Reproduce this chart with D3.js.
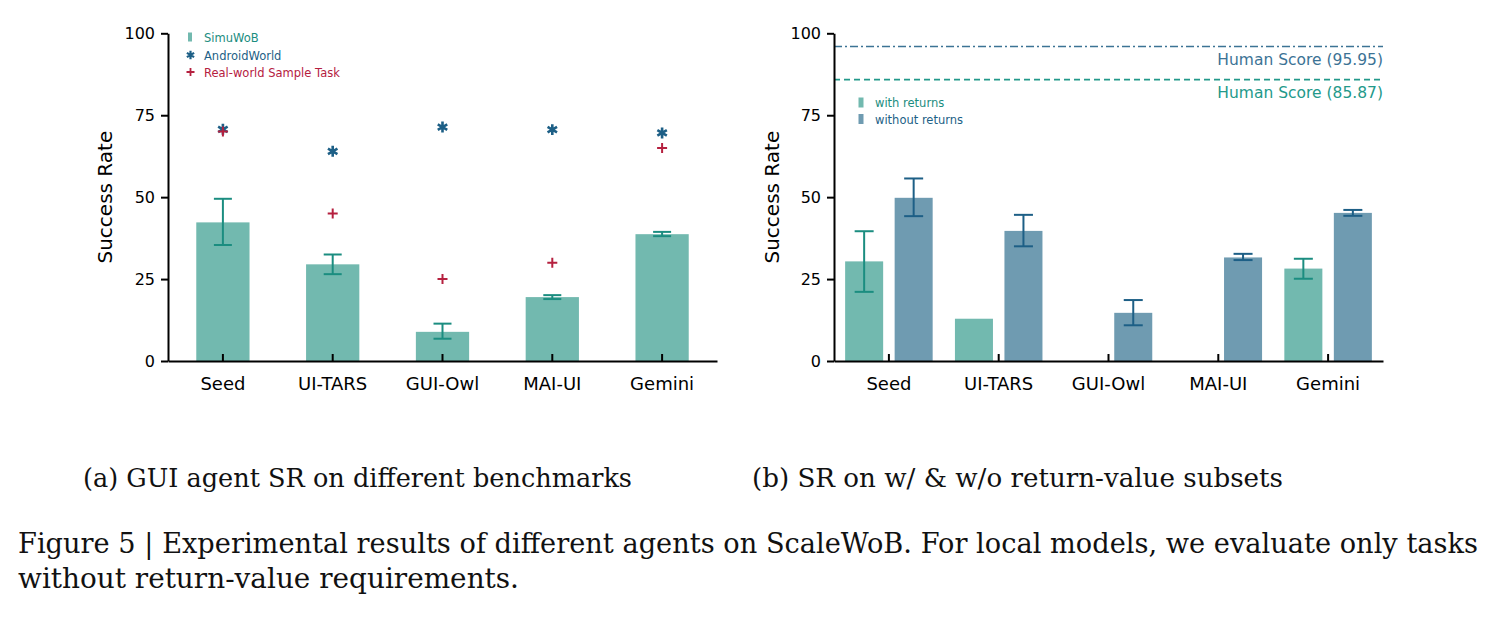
<!DOCTYPE html>
<html>
<head>
<meta charset="utf-8">
<script src="https://cdn.jsdelivr.net/npm/d3@7"></script>
<style>
  body { margin: 0; background: #fff; }
  svg { display: block; }
  .axis path, .axis line { stroke: #000; stroke-width: 2px; }
  .axis text { font-family: "DejaVu Sans", Verdana, sans-serif; fill: #000; }
</style>
</head>
<body>
<svg id="fig"></svg>
<script>
// ---- data ----
const categories = ['Seed', 'UI-TARS', 'GUI-Owl', 'MAI-UI', 'Gemini'];
const yTicks = [0, 25, 50, 75, 100];

// (a) GUI agent SR on different benchmarks
const simuwob   = [42.3, 29.5, 8.9, 19.5, 38.7];
const simuwobLo = [35.4, 26.5, 6.8, 18.9, 38.1];
const simuwobHi = [49.5, 32.5, 11.4, 20.1, 39.4];
const androidWorld = [70.7, 64.0, 71.4, 70.6, 69.6];
const realWorld    = [70.0, 45.0, 25.0, 30.0, 65.0];

// (b) SR on w/ & w/o return-value subsets
const withReturns    = [30.4, 12.9, null, null, 28.2];
const withLo         = [21.1, null, null, null, 25.1];
const withHi         = [39.6, null, null, null, 31.2];
const withoutReturns = [49.8, 39.7, 14.7, 31.6, 45.2];
const withoutLo      = [44.2, 35.0, 10.9, 30.8, 44.3];
const withoutHi      = [55.7, 44.6, 18.6, 32.7, 46.1];
const humanScores = [95.95, 85.87];
const humanLabels = ['Human Score (95.95)', 'Human Score (85.87)'];

const C = {
  teal: '#72b9af', tealDark: '#1b8d80',
  blue: '#6f9bb1', blueDark: '#1d5f86',
  crimson: '#b5203f',
  human1: '#3c7395', human2: '#23998a'
};

const W = 1494, H = 618;
const svg = d3.select('#fig').attr('width', W).attr('height', H);
svg.append('rect').attr('width', W).attr('height', H).attr('fill', '#fff');

// asterisk made of three strokes
const asterisk = {
  draw(ctx, size) {
    const r = Math.sqrt(size) / 2;
    for (let k = 0; k < 3; k++) {
      const a = Math.PI / 2 + k * Math.PI / 3;
      ctx.moveTo(r * Math.cos(a), r * Math.sin(a));
      ctx.lineTo(-r * Math.cos(a), -r * Math.sin(a));
    }
  }
};
const plus = {
  draw(ctx, size) {
    const r = Math.sqrt(size) / 2;
    ctx.moveTo(-r, 0); ctx.lineTo(r, 0);
    ctx.moveTo(0, -r); ctx.lineTo(0, r);
  }
};

function makeAxes(g, x, y, left) {
  g.append('g').attr('class', 'axis')
    .attr('transform', `translate(0,${y.range()[0]})`)
    .call(d3.axisBottom(x).tickSize(-7).tickSizeOuter(0).tickPadding(16))
    .call(s => s.selectAll('text').attr('font-size', 18));
  g.append('g').attr('class', 'axis')
    .attr('transform', `translate(${left},0)`)
    .call(d3.axisLeft(y).tickValues(yTicks).tickSize(7).tickSizeOuter(0).tickPadding(6))
    .call(s => s.selectAll('text').attr('font-size', 16));
}

function yTitle(g, x, y) {
  g.append('text')
    .attr('transform', `translate(${x},${(y.range()[0] + y.range()[1]) / 2}) rotate(-90)`)
    .attr('text-anchor', 'middle')
    .attr('font-family', '"DejaVu Sans", Verdana, sans-serif')
    .attr('font-size', 20)
    .text('Success Rate');
}

function errBars(g, xs, lo, hi, cap, color) {
  const rows = xs.map((cx, i) => ({cx, lo: lo[i], hi: hi[i]})).filter(d => d.lo != null);
  const e = g.append('g').attr('stroke', color).attr('stroke-width', 2);
  e.selectAll('.v').data(rows).join('line')
    .attr('x1', d => d.cx).attr('x2', d => d.cx)
    .attr('y1', d => d.lo).attr('y2', d => d.hi);
  e.selectAll('.t').data(rows).join('line')
    .attr('x1', d => d.cx - cap / 2).attr('x2', d => d.cx + cap / 2)
    .attr('y1', d => d.hi).attr('y2', d => d.hi);
  e.selectAll('.b').data(rows).join('line')
    .attr('x1', d => d.cx - cap / 2).attr('x2', d => d.cx + cap / 2)
    .attr('y1', d => d.lo).attr('y2', d => d.lo);
}

const font = '"DejaVu Sans", Verdana, sans-serif';

// ---------------- panel (a) ----------------
const ya = d3.scaleLinear().domain([0, 100]).range([361, 33.3]);
const xa = d3.scaleBand().domain(categories).range([168, 717])
  .paddingInner(0.515).paddingOuter(0.2575);
const ga = svg.append('g');

ga.selectAll('.bar').data(simuwob).join('rect')
  .attr('x', (d, i) => xa(categories[i]))
  .attr('width', xa.bandwidth())
  .attr('y', d => ya(d))
  .attr('height', d => ya(0) - ya(d))
  .attr('fill', C.teal);

makeAxes(ga, xa, ya, 168);
yTitle(ga, 112, ya);

const cxa = categories.map(c => xa(c) + xa.bandwidth() / 2);
errBars(ga, cxa, simuwobLo.map(ya), simuwobHi.map(ya), 18, C.tealDark);

ga.selectAll('.aw').data(androidWorld).join('path')
  .attr('d', d3.symbol(asterisk, 120))
  .attr('transform', (d, i) => `translate(${cxa[i]},${ya(d)})`)
  .attr('stroke', C.blueDark).attr('stroke-width', 2.6).attr('fill', 'none');
ga.selectAll('.rw').data(realWorld).join('path')
  .attr('d', d3.symbol(plus, 100))
  .attr('transform', (d, i) => `translate(${cxa[i]},${ya(d)})`)
  .attr('stroke', C.crimson).attr('stroke-width', 2).attr('fill', 'none');

// legend (a)
const la = ga.append('g').attr('font-family', font).attr('font-size', 11.5);
la.append('rect').attr('x', 188).attr('y', 32.5).attr('width', 4).attr('height', 9).attr('fill', C.teal);
la.append('text').attr('x', 204).attr('y', 42.3).attr('fill', C.tealDark).text('SimuWoB');
la.append('path').attr('d', d3.symbol(asterisk, 70)).attr('transform', 'translate(190.5,55)')
  .attr('stroke', C.blueDark).attr('stroke-width', 2.2).attr('fill', 'none');
la.append('text').attr('x', 204).attr('y', 59.5).attr('fill', C.blueDark).text('AndroidWorld');
la.append('path').attr('d', d3.symbol(plus, 64)).attr('transform', 'translate(190.5,72)')
  .attr('stroke', C.crimson).attr('stroke-width', 1.8).attr('fill', 'none');
la.append('text').attr('x', 204).attr('y', 76.7).attr('fill', C.crimson).text('Real-world Sample Task');

// ---------------- panel (b) ----------------
const yb = d3.scaleLinear().domain([0, 100]).range([361, 33.3]);
const xb = d3.scaleBand().domain(categories).range([834, 1383]);
const xsub = d3.scaleBand().domain(['with', 'without']).range([0, xb.bandwidth()])
  .paddingInner(0.232).paddingOuter(0.225);
const gb = svg.append('g');

// human score reference lines
const dashes = ['8,3,2,3', '6,4'];
const hcol = [C.human1, C.human2];
gb.selectAll('.hl').data(humanScores).join('line')
  .attr('x1', 834).attr('x2', 1383)
  .attr('y1', d => yb(d)).attr('y2', d => yb(d))
  .attr('stroke', (d, i) => hcol[i]).attr('stroke-width', 1.6)
  .attr('stroke-dasharray', (d, i) => dashes[i]);
gb.selectAll('.ht').data(humanScores).join('text')
  .attr('x', 1383).attr('y', d => yb(d) + 18)
  .attr('text-anchor', 'end')
  .attr('font-family', font).attr('font-size', 15.5)
  .attr('fill', (d, i) => hcol[i])
  .text((d, i) => humanLabels[i]);

const barRows = categories.flatMap((c, i) => [
  {c, key: 'with', v: withReturns[i], fill: C.teal},
  {c, key: 'without', v: withoutReturns[i], fill: C.blue}
]).filter(d => d.v != null);

gb.selectAll('.bar').data(barRows).join('rect')
  .attr('x', d => xb(d.c) + xsub(d.key))
  .attr('width', xsub.bandwidth())
  .attr('y', d => yb(d.v))
  .attr('height', d => yb(0) - yb(d.v))
  .attr('fill', d => d.fill);

makeAxes(gb, xb, yb, 834);
yTitle(gb, 779, yb);

const cxWith = categories.map(c => xb(c) + xsub('with') + xsub.bandwidth() / 2);
const cxWithout = categories.map(c => xb(c) + xsub('without') + xsub.bandwidth() / 2);
errBars(gb, cxWith, withLo.map(v => v == null ? null : yb(v)), withHi.map(v => v == null ? null : yb(v)), 19, C.tealDark);
errBars(gb, cxWithout, withoutLo.map(yb), withoutHi.map(yb), 19, C.blueDark);

// legend (b)
const lb = gb.append('g').attr('font-family', font).attr('font-size', 11.5);
lb.append('rect').attr('x', 858.5).attr('y', 97.5).attr('width', 5).attr('height', 10).attr('fill', C.teal);
lb.append('text').attr('x', 875).attr('y', 107).attr('fill', C.tealDark).text('with returns');
lb.append('rect').attr('x', 858.5).attr('y', 114).attr('width', 5).attr('height', 10).attr('fill', C.blue);
lb.append('text').attr('x', 875).attr('y', 124).attr('fill', C.blueDark).text('without returns');

// ---------------- captions ----------------
const serif = '"DejaVu Serif", "Liberation Serif", serif';
const caps = [
  {t: '(a) GUI agent SR on different benchmarks', x: 83, y: 487, w: 549, s: 25.5},
  {t: '(b) SR on w/ & w/o return-value subsets', x: 752, y: 487, w: 531, s: 25.5},
  {t: 'Figure 5 | Experimental results of different agents on ScaleWoB. For local models, we evaluate only tasks', x: 18, y: 553, w: 1460, s: 27},
  {t: 'without return-value requirements.', x: 18, y: 588, w: 501, s: 27}
];
svg.selectAll('.cap').data(caps).join('text')
  .attr('x', d => d.x).attr('y', d => d.y)
  .attr('font-family', serif).attr('font-size', d => d.s)
  .attr('textLength', d => d.w).attr('lengthAdjust', 'spacingAndGlyphs')
  .attr('fill', '#111')
  .text(d => d.t);
</script>
</body>
</html>
